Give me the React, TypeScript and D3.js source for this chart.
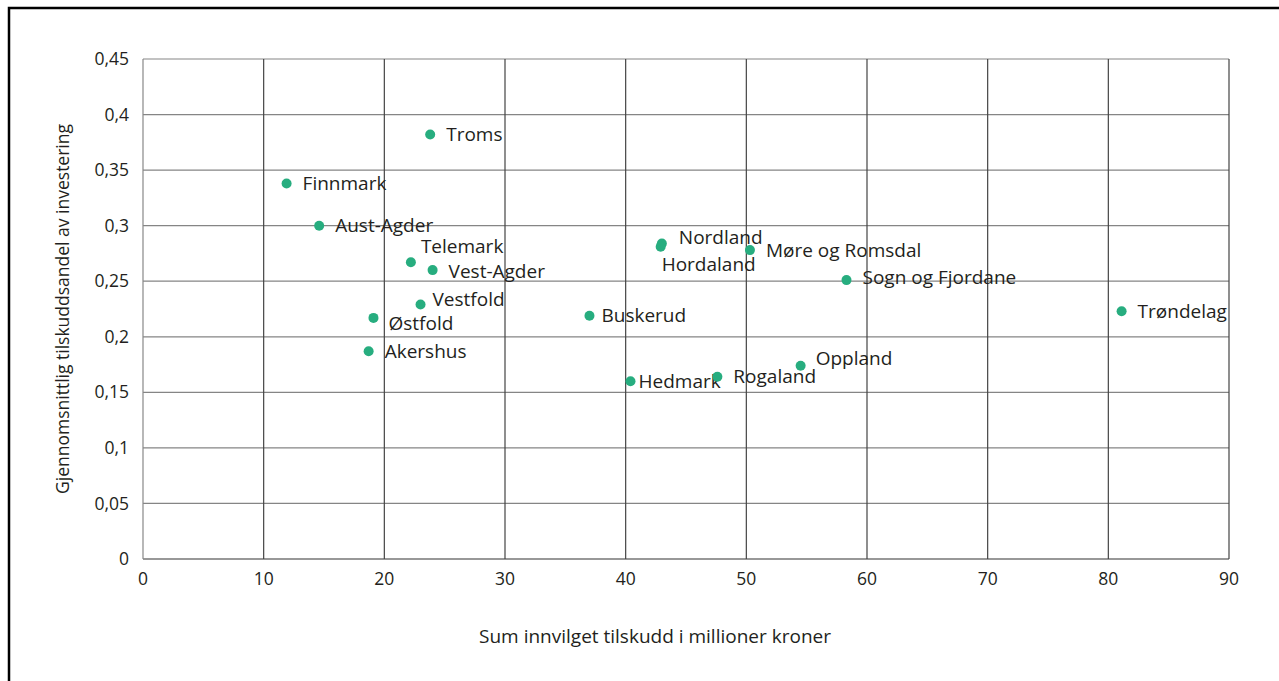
import React from 'react';
import * as d3 from 'd3';

// counties, summed grants (million NOK) and average grant share
const counties = [
  'Troms', 'Finnmark', 'Aust-Agder', 'Telemark', 'Vest-Agder', 'Vestfold', 'Østfold', 'Akershus',
  'Buskerud', 'Hedmark', 'Nordland', 'Hordaland', 'Møre og Romsdal', 'Rogaland', 'Oppland',
  'Sogn og Fjordane', 'Trøndelag',
];
const grantSum = [23.8, 11.9, 14.6, 22.2, 24.0, 23.0, 19.1, 18.7, 37.0, 40.4, 43.0, 42.9, 50.3, 47.6, 54.5, 58.3, 81.1];
const grantShare = [0.382, 0.338, 0.300, 0.267, 0.260, 0.229, 0.217, 0.187, 0.219, 0.160, 0.284, 0.281, 0.278, 0.164, 0.174, 0.251, 0.223];

const xTicks = [0, 10, 20, 30, 40, 50, 60, 70, 80, 90];
const yTicks = [0, 0.05, 0.1, 0.15, 0.2, 0.25, 0.3, 0.35, 0.4, 0.45];

// label nudges [dx, dy] so names don't collide
const labelNudge: Record<string, [number, number]> = {
  'Telemark': [10, -16],
  'Vest-Agder': [16, 1],
  'Vestfold': [12, -5],
  'Østfold': [15, 5],
  'Buskerud': [12, 0],
  'Hedmark': [8, 0],
  'Nordland': [17, -6],
  'Hordaland': [1, 18],
  'Oppland': [15, -7],
  'Sogn og Fjordane': [16, -3],
};

const W = 1279, H = 681;
const font = '"Open Sans", sans-serif';
const ink = '#231f20';

export default function App() {
  const x = d3.scaleLinear().domain([0, 90]).range([143, 1229]);
  const y = d3.scaleLinear().domain([0, 0.45]).range([559, 59]);
  const fmt = (v: number) => String(+v.toFixed(2)).replace('.', ',');

  return (
    <div style={{ position: 'absolute', left: 0, top: 0 }}>
      <svg width={W} height={H} style={{ display: 'block', fontFamily: font }}>
        <rect x={0} y={0} width={W} height={H} fill="#fff" />
        {/* frame, clipped on right/bottom like the source */}
        <path d={`M9,${H} V8 H${W}`} fill="none" stroke="#000" strokeWidth={2.5} />

        {yTicks.map(t => (
          <line key={'h' + t} x1={x(0)} x2={x(90)} y1={y(t)} y2={y(t)}
            stroke={t === 0 ? '#333' : '#858585'} strokeWidth={1.2} />
        ))}
        {xTicks.map(t => (
          <line key={'v' + t} x1={x(t)} x2={x(t)} y1={y(0)} y2={y(0.45)}
            stroke={t === 0 ? '#888' : '#444'} strokeWidth={1.2} />
        ))}

        {yTicks.map(t => (
          <text key={'yt' + t} x={129} y={y(t)} dy="0.35em" textAnchor="end" fontSize={17.5} fill={ink}>{fmt(t)}</text>
        ))}
        {xTicks.map(t => (
          <text key={'xt' + t} x={x(t)} y={585} textAnchor="middle" fontSize={17.5} fill={ink}>{t}</text>
        ))}

        <text x={655} y={643} textAnchor="middle" fontSize={19} fill={ink}>
          Sum innvilget tilskudd i millioner kroner
        </text>
        <text transform="translate(69,309) rotate(-90)" textAnchor="middle" fontSize={17.5} fill={ink}>
          Gjennomsnittlig tilskuddsandel av investering
        </text>

        {counties.map((c, i) => {
          const cx = x(grantSum[i]), cy = y(grantShare[i]);
          const [dx, dy] = labelNudge[c] || [16, 0];
          return (
            <g key={c}>
              <circle cx={cx} cy={cy} r={5} fill="#27ad7f" />
              <text x={cx + dx} y={cy + dy} dy="0.35em" fontSize={19} fill={ink}>{c}</text>
            </g>
          );
        })}
      </svg>
    </div>
  );
}
